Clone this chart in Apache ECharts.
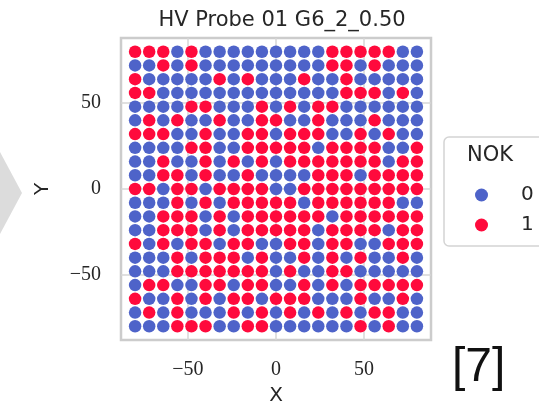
<!DOCTYPE html>
<html>
<head>
<meta charset="utf-8">
<script src="https://cdn.jsdelivr.net/npm/echarts@6/dist/echarts.min.js"></script>
<style>
  html, body { margin: 0; padding: 0; background: #fff; }
  #main { width: 539px; height: 411px; }
</style>
</head>
<body>
<div id="main"></div>
<script>
// probe grid positions
var xValues = [-80, -72, -64, -56, -48, -40, -32, -24, -16, -8, 0, 8, 16, 24, 32, 40, 48, 56, 64, 72, 80];
var yValues = [80, 72, 64, 56, 48, 40, 32, 24, 16, 8, 0, -8, -16, -24, -32, -40, -48, -56, -64, -72, -80];
var tickValues = [-50, 0, 50];
var nokClasses = ['0', '1'];
// NOK flag per row (top row y=80 first), columns left to right
var nok = [
    [1,1,1,0,1,0,0,0,0,0,0,0,0,0,1,1,1,1,1,0,0],
    [0,0,1,0,1,0,0,0,0,0,0,0,0,0,1,1,0,1,0,0,0],
    [1,0,0,0,0,0,1,0,1,0,0,0,1,0,0,1,0,0,0,0,0],
    [1,1,0,0,0,0,0,0,0,0,0,0,0,0,0,1,1,1,0,1,0],
    [0,0,0,0,1,1,0,0,0,1,0,1,0,1,1,0,0,0,0,0,0],
    [0,1,0,1,0,0,1,0,0,1,1,0,0,1,0,0,0,1,0,0,0],
    [1,1,1,0,0,1,0,0,1,1,0,1,1,1,0,0,1,0,1,0,0],
    [0,0,0,0,1,1,0,0,1,1,1,1,1,0,1,1,1,1,0,0,1],
    [0,0,1,0,0,1,0,1,0,1,0,1,1,1,1,1,1,1,0,1,1],
    [0,0,1,1,0,1,0,0,1,0,0,0,0,1,1,1,0,1,1,1,1],
    [1,1,0,1,1,0,1,1,1,1,0,0,1,1,1,1,1,1,1,1,1],
    [0,0,0,1,0,1,0,1,1,1,1,1,0,1,1,1,1,1,1,0,0],
    [0,0,1,1,1,0,1,0,1,1,1,1,1,1,0,1,1,1,1,1,1],
    [0,0,1,1,1,0,1,0,1,1,1,1,1,0,1,1,1,1,0,1,1],
    [1,0,1,0,1,1,0,1,1,0,0,1,1,0,1,1,0,0,1,1,1],
    [0,0,0,1,0,1,1,1,0,1,0,0,1,0,1,0,1,0,0,1,0],
    [0,0,0,1,1,1,1,1,1,1,0,1,0,0,1,1,0,0,0,0,0],
    [0,1,1,0,0,1,1,0,1,1,0,0,1,0,1,0,1,1,1,1,1],
    [1,0,0,1,0,1,0,1,1,0,1,1,1,0,0,0,1,0,0,1,0],
    [0,1,0,1,0,0,0,1,0,1,0,1,0,1,0,1,0,1,1,0,0],
    [0,0,0,1,1,1,0,0,1,1,0,0,0,0,0,0,1,0,1,0,0]
];
var colors = ['#4e63c9', '#ff0a3c'];

var pts = [[], []];
for (var r = 0; r < yValues.length; r++) {
    for (var c = 0; c < xValues.length; c++) {
        pts[nok[r][c]].push([xValues[c], yValues[r]]);
    }
}

var fmt = function (v) { return String(v).replace('-', '\u2212'); };
var gridLine = { show: true, lineStyle: { color: '#d6d6d6', width: 1.5 } };

function axis(name, gap, labelMargin) {
    return {
        type: 'value',
        min: -88,
        max: 88,
        name: name,
        nameLocation: 'middle',
        nameGap: gap,
        nameTextStyle: { fontFamily: 'DejaVu Sans', fontSize: 20, color: '#262626' },
        axisLine: { show: false },
        axisTick: { show: true, customValues: tickValues, length: 5, lineStyle: { color: '#cccccc', width: 1.5 } },
        axisLabel: {
            customValues: tickValues,
            formatter: fmt,
            margin: labelMargin,
            fontFamily: 'Liberation Serif',
            fontSize: 20,
            color: '#262626'
        },
        splitLine: gridLine
    };
}

var chart = echarts.init(document.getElementById('main'));
chart.setOption({
    animation: false,
    title: {
        text: 'HV Probe 01 G6_2_0.50',
        left: 277,
        textAlign: 'center',
        top: 5,
        textStyle: { fontFamily: 'DejaVu Sans', fontSize: 21, fontWeight: 'normal', color: '#262626' }
    },
    grid: {
        left: 121, top: 38, width: 310, height: 310,
        show: true, borderColor: '#cccccc', borderWidth: 2.5, backgroundColor: '#fff'
    },
    xAxis: axis('X', 46, 20),
    yAxis: axis('Y', 68, 20),
    legend: {
        data: nokClasses,
        orient: 'vertical',
        left: 470,
        top: 180,
        icon: 'circle',
        itemWidth: 13,
        itemHeight: 13,
        itemGap: 10,
        textStyle: { fontFamily: 'DejaVu Sans', fontSize: 20, color: '#262626', padding: [0, 0, 0, 28] }
    },
    graphic: [
        { type: 'polygon', shape: { points: [[0, 152], [22, 193], [0, 234]] }, style: { fill: '#dcdcdc' } },
        { type: 'rect', shape: { x: 444, y: 137, width: 130, height: 109, r: 5 },
          style: { fill: '#fff', stroke: '#d4d4d4', lineWidth: 1.5 }, z: -1 },
        { type: 'text', left: 467, top: 145, style: { text: 'NOK', font: '21px "DejaVu Sans"', fill: '#262626' } },
        { type: 'text', left: 452, top: 344, style: { text: '[7]', font: '48px "Liberation Sans"', fill: '#111' } }
    ],
    series: nokClasses.map(function (k, i) {
        return {
            name: k,
            type: 'scatter',
            data: pts[i],
            symbolSize: 12.5,
            itemStyle: { color: colors[i], opacity: 1 }
        };
    })
});
</script>
</body>
</html>
